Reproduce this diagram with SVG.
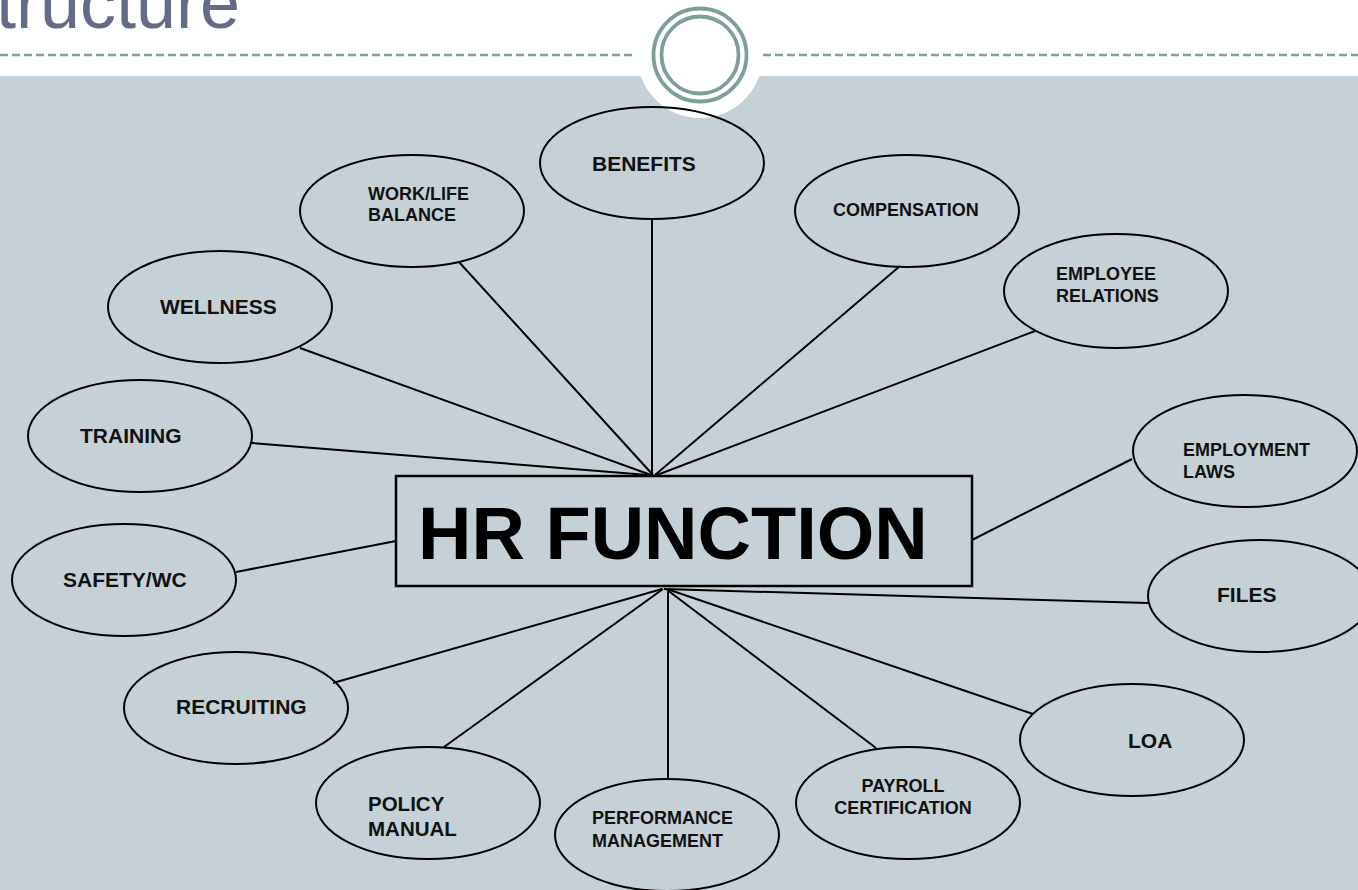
<svg xmlns="http://www.w3.org/2000/svg" width="1358" height="890" viewBox="0 0 1358 890">
<style>
.node ellipse{fill:none;stroke:#000;stroke-width:2}
.lbl{font-family:"Liberation Sans",Arial,sans-serif;font-weight:bold;fill:#111}
.s18{font-size:18px}
.s21{font-size:21px}
#connectors line{stroke:#000;stroke-width:2}
.dash{stroke:#7FA09C;stroke-width:2.5;stroke-dasharray:8 4}
.ring{fill:none;stroke:#7D9E9A;stroke-width:3.8}
</style>
<rect x="0" y="0" width="1358" height="890" fill="#ffffff"/>
<rect x="0" y="76" width="1358" height="814" fill="#C5D1D7"/>
<circle cx="700" cy="55" r="63" fill="#ffffff"/>
<text x="-4" y="28" font-family="Liberation Sans, Arial, sans-serif" font-size="72" fill="#646B86">tructure</text>
<line class="dash" x1="0" y1="55" x2="633" y2="55"/>
<line class="dash" x1="763" y1="55" x2="1358" y2="55"/>
<circle class="ring" cx="700" cy="55" r="46.5"/>
<circle class="ring" cx="700" cy="55" r="38.5"/>
<g id="connectors">
<line x1="652" y1="219" x2="652" y2="475"/>
<line x1="459" y1="262" x2="653" y2="475"/>
<line x1="900" y1="266" x2="655" y2="475"/>
<line x1="1035" y1="331" x2="657" y2="475"/>
<line x1="300" y1="348" x2="651" y2="475"/>
<line x1="252" y1="443" x2="648" y2="475"/>
<line x1="236" y1="572" x2="396" y2="541"/>
<line x1="972" y1="540" x2="1132" y2="459"/>
<line x1="664" y1="589" x2="1148" y2="603"/>
<line x1="333" y1="683" x2="662" y2="589"/>
<line x1="444" y1="747" x2="663" y2="589"/>
<line x1="668" y1="589" x2="668" y2="779"/>
<line x1="876" y1="748" x2="666" y2="589"/>
<line x1="1033" y1="714" x2="667" y2="589"/>
</g>
<g id="hr-function">
<rect x="396" y="476" width="576" height="110" fill="none" stroke="#000" stroke-width="2.5"/>
<text x="418" y="559" font-family="Liberation Sans, Arial, sans-serif" font-weight="bold" font-size="74" fill="#000">HR FUNCTION</text>
</g>
<g id="benefits" class="node"><ellipse cx="652" cy="163" rx="112" ry="56"/><text class="lbl s21" x="592" y="171">BENEFITS</text></g>
<g id="work-life" class="node"><ellipse cx="412" cy="211" rx="112" ry="56"/><text class="lbl s18" x="368" y="200">WORK/LIFE</text><text class="lbl s18" x="368" y="221">BALANCE</text></g>
<g id="compensation" class="node"><ellipse cx="907" cy="211" rx="112" ry="56"/><text class="lbl s18" x="833" y="216">COMPENSATION</text></g>
<g id="employee-relations" class="node"><ellipse cx="1116" cy="291" rx="112" ry="57"/><text class="lbl s18" x="1056" y="280">EMPLOYEE</text><text class="lbl s18" x="1056" y="302">RELATIONS</text></g>
<g id="wellness" class="node"><ellipse cx="220" cy="307" rx="112" ry="56"/><text class="lbl s21" x="160" y="314">WELLNESS</text></g>
<g id="training" class="node"><ellipse cx="140" cy="436" rx="112" ry="56"/><text class="lbl s21" x="80" y="443">TRAINING</text></g>
<g id="safety" class="node"><ellipse cx="124" cy="580" rx="112" ry="56"/><text class="lbl s21" x="63" y="587">SAFETY/WC</text></g>
<g id="employment-laws" class="node"><ellipse cx="1245" cy="451" rx="112" ry="56"/><text class="lbl s18" x="1183" y="456">EMPLOYMENT</text><text class="lbl s18" x="1183" y="478">LAWS</text></g>
<g id="files" class="node"><ellipse cx="1260" cy="596" rx="112" ry="56"/><text class="lbl s21" x="1217" y="602">FILES</text></g>
<g id="recruiting" class="node"><ellipse cx="236" cy="708" rx="112" ry="56"/><text class="lbl s21" x="176" y="714">RECRUITING</text></g>
<g id="loa" class="node"><ellipse cx="1132" cy="740" rx="112" ry="56"/><text class="lbl s21" x="1128" y="748">LOA</text></g>
<g id="policy-manual" class="node"><ellipse cx="428" cy="803" rx="112" ry="56"/><text class="lbl" font-size="20.5" x="368" y="811">POLICY</text><text class="lbl" font-size="20.5" x="368" y="836">MANUAL</text></g>
<g id="performance-management" class="node"><ellipse cx="667" cy="835" rx="112" ry="56"/><text class="lbl s18" x="592" y="824">PERFORMANCE</text><text class="lbl s18" x="592" y="847">MANAGEMENT</text></g>
<g id="payroll-certification" class="node"><ellipse cx="908" cy="803" rx="112" ry="56"/><text class="lbl s18" x="903" y="792" text-anchor="middle">PAYROLL</text><text class="lbl s18" x="903" y="814" text-anchor="middle">CERTIFICATION</text></g>
</svg>
